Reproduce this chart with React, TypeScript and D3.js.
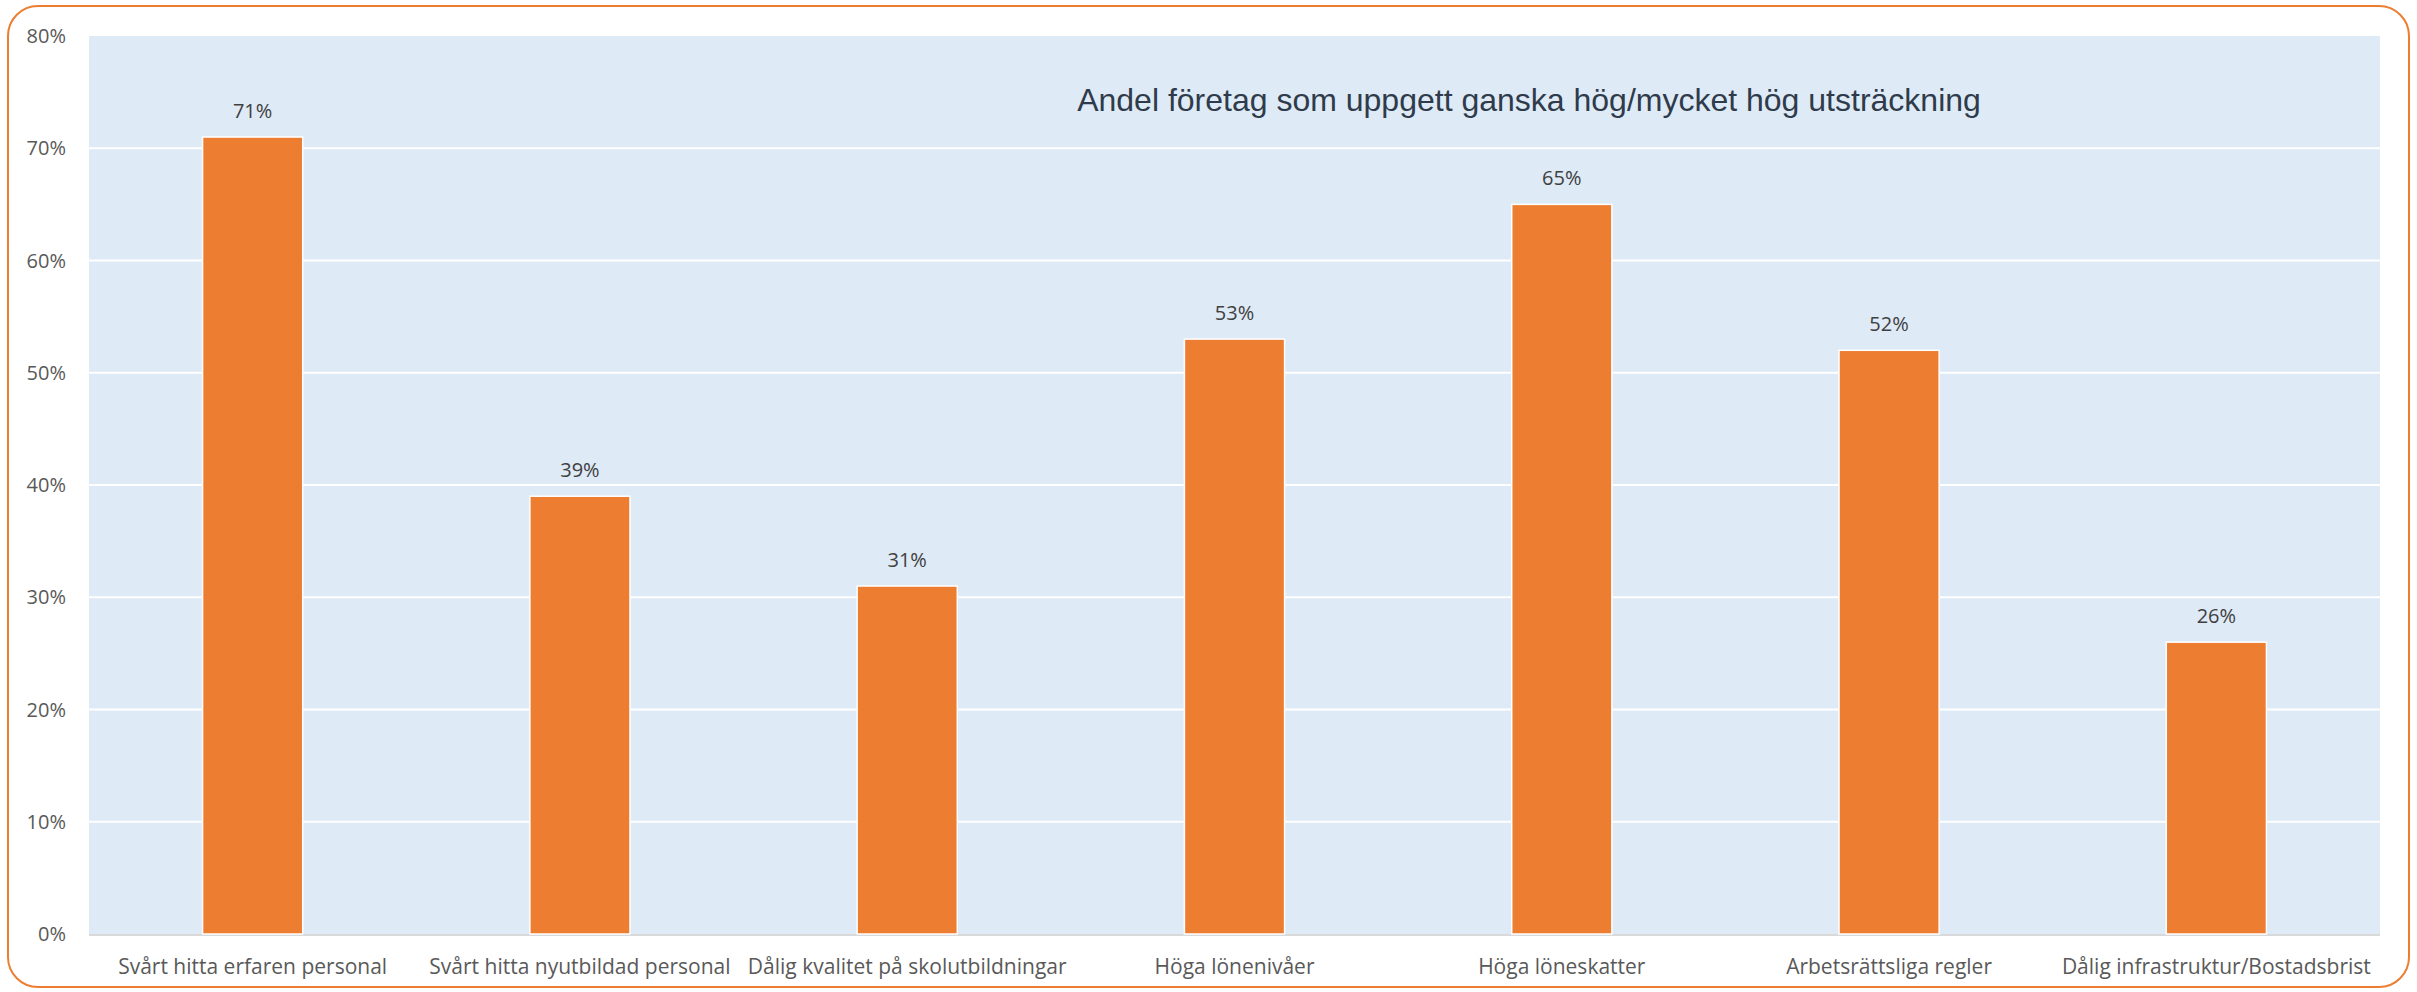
import React from "react";
import * as d3 from "d3";

const categories = [
  "Svårt hitta erfaren personal",
  "Svårt hitta nyutbildad personal",
  "Dålig kvalitet på skolutbildningar",
  "Höga lönenivåer",
  "Höga löneskatter",
  "Arbetsrättsliga regler",
  "Dålig infrastruktur/Bostadsbrist",
];
const values = [71, 39, 31, 53, 65, 52, 26];
const yTicks = [0, 10, 20, 30, 40, 50, 60, 70, 80];
const title = "Andel företag som uppgett ganska hög/mycket hög utsträckning";

const W = 2417;
const H = 992;
const plot = { left: 89, top: 36, right: 2380, bottom: 934 };
const FONT = "'Open Sans', 'Noto Sans', sans-serif";

export default function App() {
  const x = d3
    .scaleBand<string>()
    .domain(categories)
    .range([plot.left, plot.right])
    .paddingInner(0.694)
    .paddingOuter(0.347);
  const y = d3.scaleLinear().domain([0, 80]).range([plot.bottom, plot.top]);

  return (
    <svg
      width={W}
      height={H}
      style={{ position: "absolute", left: 0, top: 0, display: "block" }}
    >
      <rect x={0} y={0} width={W} height={H} fill="#ffffff" />
      <rect
        x={8}
        y={6}
        width={2401}
        height={981}
        rx={30}
        ry={30}
        fill="#ffffff"
        stroke="#ED7D31"
        strokeWidth={2}
      />
      <rect
        x={plot.left}
        y={plot.top}
        width={plot.right - plot.left}
        height={plot.bottom - plot.top}
        fill="#DEEAF6"
      />
      {yTicks.map((t) =>
        t > 0 && t < 80 ? (
          <line
            key={"g" + t}
            x1={plot.left}
            x2={plot.right}
            y1={y(t)}
            y2={y(t)}
            stroke="#ffffff"
            strokeWidth={2}
          />
        ) : null
      )}
      {yTicks.map((t) => (
        <text
          key={"yt" + t}
          x={66}
          y={y(t)}
          dy="0.35em"
          textAnchor="end"
          fontFamily={FONT}
          fontSize={20}
          fill="#595959"
        >
          {t + "%"}
        </text>
      ))}
      <line
        x1={plot.left}
        x2={plot.right}
        y1={plot.bottom + 1}
        y2={plot.bottom + 1}
        stroke="#D9D9D9"
        strokeWidth={2}
      />
      {categories.map((c, i) => (
        <g key={c}>
          <rect
            x={x(c)!}
            y={y(values[i])}
            width={x.bandwidth()}
            height={y(0) - y(values[i])}
            fill="#ED7D31"
            stroke="#ffffff"
            strokeWidth={1.5}
          />
          <text
            x={x(c)! + x.bandwidth() / 2}
            y={y(values[i]) - 19}
            textAnchor="middle"
            fontFamily={FONT}
            fontSize={20}
            fill="#404040"
          >
            {values[i] + "%"}
          </text>
          <text
            x={x(c)! + x.bandwidth() / 2}
            y={974}
            textAnchor="middle"
            fontFamily={FONT}
            fontSize={21}
            fill="#595959"
          >
            {c}
          </text>
        </g>
      ))}
      <text
        x={1529}
        y={111}
        textAnchor="middle"
        fontFamily="'Liberation Sans', Arial, sans-serif"
        fontSize={32}
        fill="#2F3B4A"
      >
        {title}
      </text>
    </svg>
  );
}
